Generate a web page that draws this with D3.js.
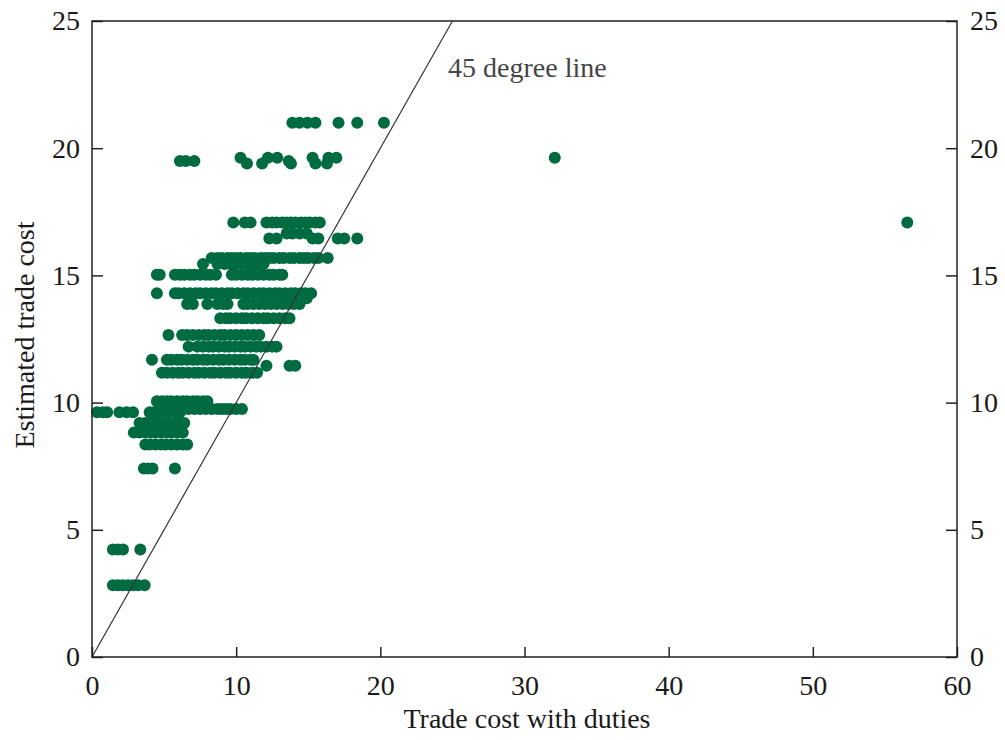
<!DOCTYPE html>
<html>
<head>
<meta charset="utf-8">
<script src="https://cdn.jsdelivr.net/npm/d3@7"></script>
<style>
  body { margin: 0; background: #fff; }
  text { font-family: "Liberation Serif", "Times New Roman", serif; fill: #1a1a1a; }
</style>
</head>
<body>
<div id="chart"></div>
<script>
// y level of each row of dots, and the x values of the dots on that row
const rowLevels = [21.0, 19.62, 19.5, 19.4, 17.08, 16.65, 16.45, 15.68, 15.45, 15.03,
  14.3, 14.1, 13.88, 13.32, 12.66, 12.2, 11.68, 11.45, 11.17, 10.05, 9.75, 9.62,
  9.2, 8.82, 8.35, 7.41, 4.23, 2.82]
const rowXs = [
  [13.9, 14.4, 14.95, 15.5, 17.1, 18.4, 20.25],
  [10.3, 12.2, 12.85, 15.3, 16.4, 16.95, 32.1],
  [6.1, 6.5, 7.1, 13.65],
  [10.75, 11.8, 13.8, 15.5, 16.3],
  [9.8, 10.6, 11.0, 12.1, 12.5, 12.8, 13.2, 13.5, 13.8, 14.1, 14.5, 14.8, 15.1, 15.5, 15.8, 56.55],
  [13.5, 13.9, 14.4, 14.9],
  [12.3, 12.8, 15.3, 15.7, 17.05, 17.5, 18.4],
  [8.3, 8.7, 9.0, 9.4, 9.7, 10.0, 10.3, 10.7, 11.0, 11.3, 11.7, 12.0, 12.3, 12.6, 13.0, 13.3, 13.7, 14.0, 14.4, 14.7, 15.0, 15.4, 15.7, 16.35],
  [7.7, 8.7, 9.2, 9.6, 10.0, 10.4, 10.8, 11.2, 11.6, 11.9],
  [4.5, 4.7, 5.75, 6.1, 6.4, 6.8, 7.1, 7.5, 7.9, 8.2, 8.6, 9.7, 10.0, 10.4, 10.8, 11.1, 11.5, 11.9, 12.3, 12.6, 13.0, 13.2],
  [4.5, 5.75, 6.0, 6.4, 6.8, 7.2, 7.5, 7.9, 8.3, 8.6, 9.0, 9.4, 9.7, 10.1, 10.5, 10.8, 11.2, 11.6, 11.9, 12.3, 12.7, 13.0, 13.4, 13.8, 14.1, 14.5, 14.8, 15.2],
  [14.9],
  [6.6, 7.0, 8.0, 8.7, 9.1, 9.4, 10.5, 10.8, 11.2, 11.6, 12.0, 12.4, 12.8, 13.2, 13.6, 14.0, 14.4],
  [8.9, 9.3, 9.6, 10.0, 10.4, 10.7, 11.1, 11.5, 11.9, 12.2, 12.6, 13.0, 13.4, 13.7],
  [5.3, 6.25, 6.6, 7.0, 7.4, 7.8, 8.1, 8.5, 8.9, 9.2, 9.6, 10.0, 10.4, 10.8, 11.2, 11.6],
  [6.7, 7.3, 7.7, 8.1, 8.4, 8.8, 9.2, 9.5, 9.9, 10.3, 10.6, 11.0, 11.4, 11.7, 12.1, 12.5, 12.8],
  [4.16, 5.2, 5.5, 5.9, 6.2, 6.6, 7.0, 7.3, 7.7, 8.0, 8.4, 8.8, 9.1, 9.5, 9.9, 10.3, 10.6, 11.0, 11.2],
  [12.1, 13.7, 14.1],
  [4.85, 5.2, 5.6, 6.0, 6.3, 6.7, 7.1, 7.4, 7.8, 8.2, 8.5, 8.9, 9.3, 9.6, 10.0, 10.4, 10.7, 11.1, 11.45],
  [4.5, 4.85, 5.2, 5.5, 5.9, 6.3, 6.6, 7.0, 7.3, 7.7, 8.0],
  [5.5, 5.9, 6.3, 6.7, 7.1, 7.5, 7.9, 8.3, 8.7, 9.0, 9.3, 9.6, 10.0, 10.4],
  [0.35, 0.75, 1.05, 1.9, 2.4, 2.85, 4.0, 4.3, 4.6, 5.0, 5.4, 5.8, 6.1],
  [3.3, 3.7, 4.0, 4.4, 4.7, 5.1, 5.4, 5.8, 6.2, 6.4],
  [2.9, 3.3, 3.7, 4.1, 4.4, 4.8, 5.2, 5.5, 5.9, 6.3],
  [3.7, 4.0, 4.4, 4.8, 5.1, 5.5, 5.9, 6.3, 6.6],
  [3.6, 3.9, 4.2, 5.75],
  [1.45, 1.8, 2.15, 3.35],
  [1.45, 1.8, 2.15, 2.5, 2.85, 3.2, 3.65]
]
const xTicks = [0, 10, 20, 30, 40, 50, 60]
const yTicks = [0, 5, 10, 15, 20, 25]

const width = 1005
const height = 740
const margin = { top: 21, right: 48, bottom: 83, left: 92 }
const innerW = width - margin.left - margin.right
const innerH = height - margin.top - margin.bottom
const fontSize = '28px'

const points = []
rowLevels.forEach(function (yv, i) {
  rowXs[i].forEach(function (xv) { points.push({ x: xv, y: yv }) })
})

const svg = d3.select('#chart').append('svg').attr('width', width).attr('height', height)
const g = svg.append('g').attr('transform', 'translate(' + margin.left + ',' + margin.top + ')')

const x = d3.scaleLinear().domain([0, 60]).range([0, innerW])
const y = d3.scaleLinear().domain([0, 25]).range([innerH, 0])

// dots
g.selectAll('circle')
  .data(points)
  .enter()
  .append('circle')
  .attr('cx', function (d) { return x(d.x) })
  .attr('cy', function (d) { return y(d.y) })
  .attr('r', 6)
  .attr('fill', '#006b40')

// 45 degree line
g.append('line')
  .attr('x1', x(0)).attr('y1', y(0))
  .attr('x2', x(25)).attr('y2', y(25))
  .attr('stroke', '#333').attr('stroke-width', 1.2)

g.append('text')
  .attr('x', x(24.7)).attr('y', y(22.8))
  .style('font-size', fontSize).style('fill', '#444')
  .text('45 degree line')

// axes, ticks pointing inward
const axisStyle = function (sel) {
  sel.select('.domain').remove()
  sel.selectAll('.tick line').attr('stroke', '#222').attr('stroke-width', 1.5)
  sel.selectAll('.tick text').style('font-size', fontSize).attr('font-family', null)
}

g.append('g')
  .attr('transform', 'translate(0,' + innerH + ')')
  .call(d3.axisBottom(x).tickValues(xTicks).tickSizeInner(-10).tickSizeOuter(0).tickPadding(18))
  .call(axisStyle)

g.append('g')
  .call(d3.axisLeft(y).tickValues(yTicks).tickSizeInner(-11).tickSizeOuter(0).tickPadding(12))
  .call(axisStyle)

g.append('g')
  .attr('transform', 'translate(' + innerW + ',0)')
  .call(d3.axisRight(y).tickValues(yTicks).tickSizeInner(-11).tickSizeOuter(0).tickPadding(13))
  .call(axisStyle)

// frame
g.append('rect')
  .attr('width', innerW).attr('height', innerH)
  .attr('fill', 'none').attr('stroke', '#222').attr('stroke-width', 1.5)

// axis titles
svg.append('text')
  .attr('x', 527).attr('y', 728)
  .attr('text-anchor', 'middle')
  .style('font-size', fontSize)
  .text('Trade cost with duties')

svg.append('text')
  .attr('transform', 'translate(34,335) rotate(-90)')
  .attr('text-anchor', 'middle')
  .style('font-size', fontSize)
  .text('Estimated trade cost')
</script>
</body>
</html>
